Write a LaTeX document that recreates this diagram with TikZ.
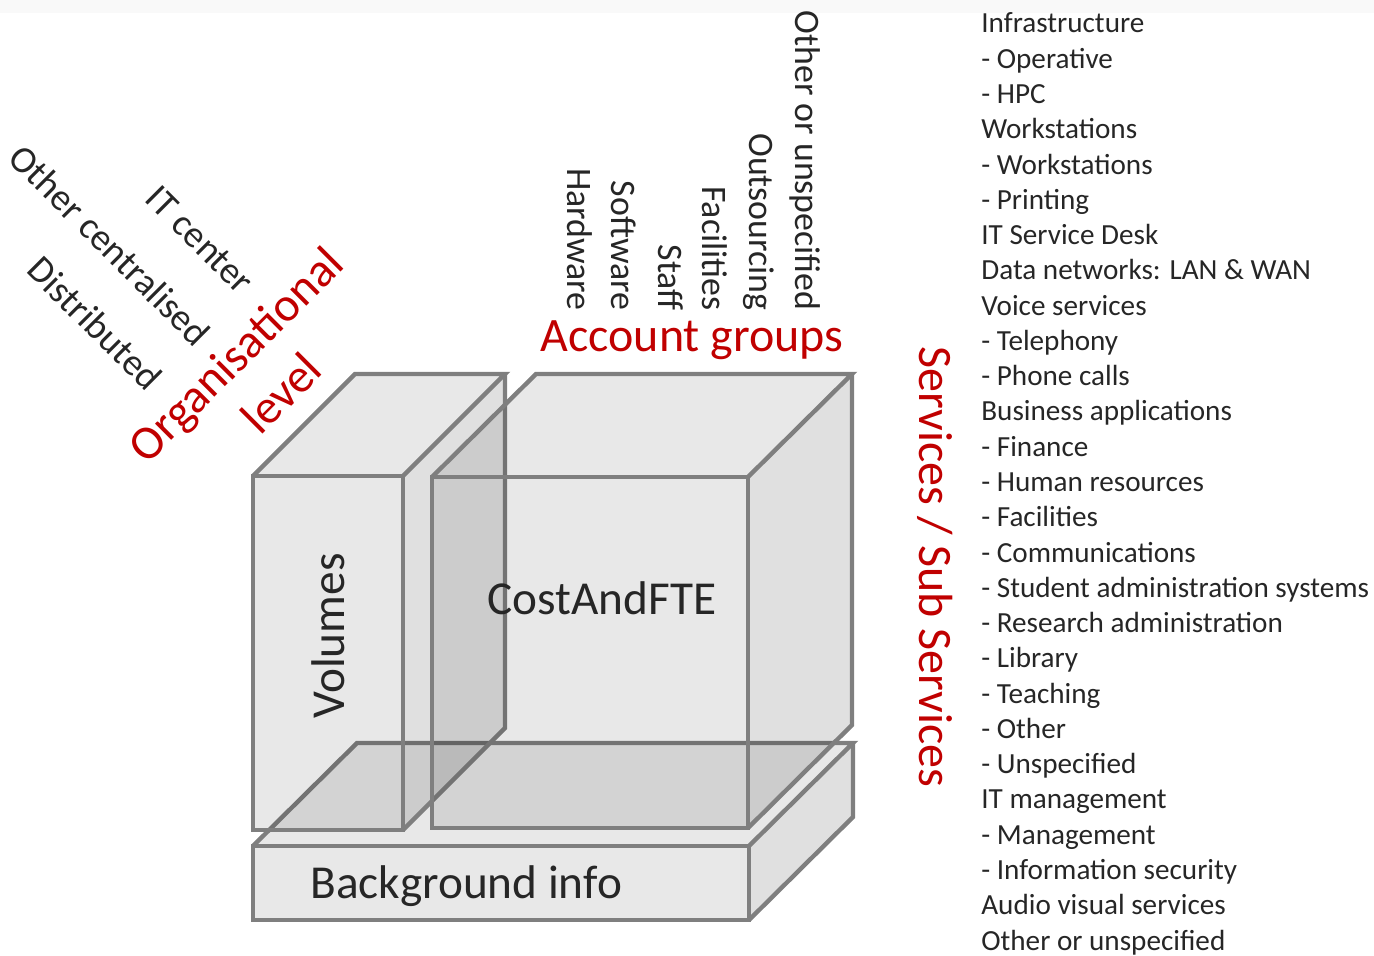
\documentclass[tikz,border=0pt]{standalone}
\usepackage{fontspec}
\setmainfont{Carlito}
\begin{document}
\begin{tikzpicture}[x=0.02cm,y=-0.02cm,
  edge/.style={draw=edgegray,line width=2.5pt,line join=miter},
  facefront/.style={fill=black,fill opacity=0.09},
  faceside/.style={fill=black,fill opacity=0.12},
  bigtxt/.style={font=\fontsize{26.9}{32}\selectfont,text=txtgray,inner sep=0pt},
  redtxt/.style={font=\fontsize{27.3}{32}\selectfont,text=redlab,inner sep=0pt},
  acctxt/.style={font=\fontsize{20.4}{24}\selectfont,text=txtgray,inner sep=0pt,rotate=-90,anchor=east},
  orgtxt/.style={font=\fontsize{21.5}{26}\selectfont,text=txtgray,inner sep=0pt,rotate=-45},
  listtxt/.style={font=\fontsize{16.6}{20}\selectfont,text=txtgray,inner sep=0pt,anchor=base west}]
\definecolor{edgegray}{HTML}{7F7F7F}
\definecolor{txtgray}{HTML}{262626}
\definecolor{redlab}{HTML}{C00000}
\definecolor{topstrip}{HTML}{F9F9F9}
\useasboundingbox (0,0) rectangle (1374,956);
\fill[topstrip] (0,0) rectangle (1374,13);

% Background info box
\path[facefront] (253,846) -- (749,846) -- (749,920) -- (253,920) -- cycle;
\path[facefront] (253,846) -- (357,743) -- (853,743) -- (749,846) -- cycle;
\path[faceside] (749,846) -- (853,743) -- (853,817) -- (749,920) -- cycle;
\draw[edge] (253,846) -- (749,846) -- (749,920) -- (253,920) -- cycle;
\draw[edge] (253,846) -- (357,743) -- (853,743) -- (749,846);
\draw[edge] (853,743) -- (853,817) -- (749,920);

% Volumes box
\path[facefront] (253,476) -- (403,476) -- (403,830) -- (253,830) -- cycle;
\path[facefront] (253,476) -- (355,374) -- (505,374) -- (403,476) -- cycle;
\path[faceside] (403,476) -- (505,374) -- (505,728) -- (403,830) -- cycle;
\draw[edge] (253,476) -- (403,476) -- (403,830) -- (253,830) -- cycle;
\draw[edge] (253,476) -- (355,374) -- (505,374) -- (403,476);
\draw[edge] (505,374) -- (505,728) -- (403,830);

% CostAndFTE box
\path[facefront] (432,477) -- (748,477) -- (748,828) -- (432,828) -- cycle;
\path[facefront] (432,477) -- (536,374) -- (852,374) -- (748,477) -- cycle;
\path[faceside] (748,477) -- (852,374) -- (852,725) -- (748,828) -- cycle;
\draw[edge] (432,477) -- (748,477) -- (748,828) -- (432,828) -- cycle;
\draw[edge] (432,477) -- (536,374) -- (852,374) -- (748,477);
\draw[edge] (852,374) -- (852,725) -- (748,828);

% box labels
\node[bigtxt] (cost) at (602,598) {CostAndFTE};
\node[bigtxt,rotate=90] (vol) at (328,636) {Volumes};
\node[bigtxt,anchor=base west] (bg) at (310,898) {Background info};

% account groups
\node[redtxt] (accg) at (692,340) {Account groups};
\node[acctxt] (hw) at (580,311) {Hardware};
\node[acctxt] (sw) at (624,311) {Software};
\node[acctxt] (st) at (671,311) {Staff};
\node[acctxt] (fa) at (715,311) {Facilities};
\node[acctxt] (os) at (759,311) {Outsourcing};
\node[acctxt] (ou) at (805,311) {Other or unspecified};

% organisational level
\node[redtxt,rotate=45] (org1) at (238,357) {Organisational};
\node[redtxt,rotate=45] (org2) at (281,393) {level};
\node[orgtxt] (itc) at (200,240) {IT center};
\node[orgtxt] (occ) at (110,245) {Other centralised};
\node[orgtxt] (dis) at (95,323) {Distributed};

% services
\node[redtxt,rotate=-90] (serv) at (935,567) {Services / Sub Services};

\foreach \t [count=\i from 0] in {Infrastructure,- Operative,- HPC,Workstations,- Workstations,- Printing,IT Service Desk,Data networks: LAN \& WAN,Voice services,- Telephony,- Phone calls,Business applications,- Finance,- Human resources,- Facilities,- Communications,- Student administration systems,- Research administration,- Library,- Teaching,- Other,- Unspecified,IT management,- Management,- Information security,Audio visual services,Other or unspecified}
  \node[listtxt] (l\i) at (981,{33+35.27*\i}) {\t};
\end{tikzpicture}
\end{document}
